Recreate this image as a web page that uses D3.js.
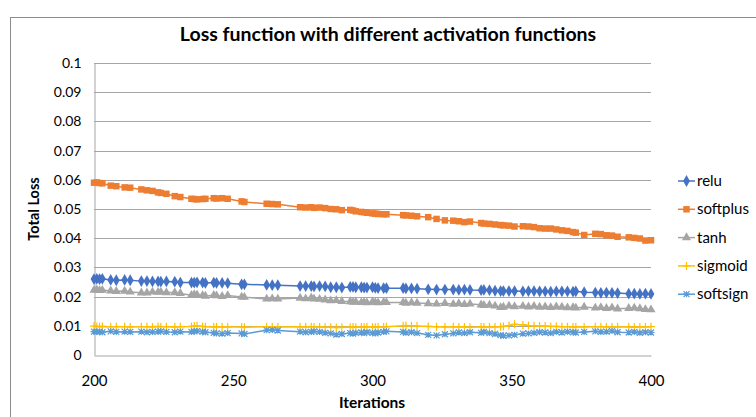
<!DOCTYPE html>
<html>
<head>
<meta charset="utf-8">
<script src="https://cdn.jsdelivr.net/npm/d3@7"></script>
<style>
  body { margin: 0; background: #fff; }
  svg { display: block; font-family: Lato, "Open Sans", sans-serif; }
</style>
</head>
<body>
<script>
// iterations (x), shared by all series
const iterations = [200,201,202,203,206,208,211,213,217,219,221,223,224,226,229,231,235,236,237,239,240,243,244,246,248,253,254,262,264,266,274,276,278,279,281,283,285,287,289,292,293,294,296,297,298,300,301,302,304,305,311,312,314,316,320,323,326,329,331,333,335,339,340,342,344,346,347,349,351,354,356,358,360,362,364,366,368,370,372,373,376,380,382,384,386,388,392,394,396,398,400];

const relu = [.0260,.0261,.0260,.0261,.0257,.0256,.0257,.0256,.0253,.0253,.0252,.0252,.0251,.0252,.0251,.0248,.0248,.0248,.0249,.0248,.0247,.0248,.0247,.0247,.0246,.0242,.0242,.0240,.0239,.0239,.0236,.0236,.0236,.0235,.0236,.0235,.0232,.0232,.0231,.0233,.0233,.0232,.0232,.0231,.0231,.0232,.0230,.0229,.0229,.0229,.0229,.0228,.0228,.0227,.0225,.0224,.0224,.0224,.0223,.0224,.0223,.0222,.0223,.0222,.0220,.0219,.0219,.0219,.0219,.0218,.0219,.0219,.0218,.0218,.0217,.0218,.0218,.0218,.0217,.0218,.0215,.0214,.0213,.0214,.0213,.0212,.0210,.0210,.0209,.0210,.0209];

const softplus = [.0590,.0591,.0589,.0588,.0580,.0578,.0574,.0573,.0567,.0564,.0562,.0557,.0555,.0552,.0544,.0541,.0535,.0534,.0533,.0534,.0535,.0537,.0536,.0537,.0535,.0526,.0524,.0518,.0517,.0516,.0506,.0505,.0506,.0504,.0505,.0503,.0500,.0499,.0496,.0497,.0495,.0492,.0490,.0489,.0487,.0485,.0484,.0483,.0482,.0482,.0479,.0478,.0477,.0475,.0472,.0466,.0461,.0460,.0458,.0455,.0457,.0452,.0450,.0449,.0447,.0445,.0444,.0443,.0440,.0441,.0440,.0438,.0434,.0433,.0433,.0430,.0427,.0425,.0421,.0419,.0411,.0415,.0414,.0410,.0409,.0405,.0403,.0401,.0399,.0392,.0393];

const tanh = [.0222,.0223,.0221,.0222,.0220,.0218,.0219,.0216,.0213,.0213,.0216,.0215,.0216,.0214,.0214,.0211,.0205,.0207,.0206,.0204,.0202,.0205,.0203,.0201,.0204,.0199,.0198,.0192,.0193,.0192,.0195,.0193,.0196,.0192,.0191,.0189,.0186,.0187,.0184,.0183,.0181,.0182,.0180,.0181,.0179,.0182,.0180,.0179,.0181,.0180,.0180,.0178,.0179,.0178,.0176,.0175,.0177,.0174,.0176,.0173,.0175,.0172,.0170,.0171,.0168,.0163,.0164,.0168,.0166,.0167,.0165,.0167,.0164,.0165,.0163,.0165,.0164,.0162,.0163,.0161,.0164,.0161,.0163,.0160,.0162,.0158,.0160,.0161,.0159,.0156,.0155];

const sigmoid = [.0099,.0098,.0097,.0098,.0097,.0097,.0097,.0096,.0097,.0097,.0096,.0098,.0097,.0097,.0096,.0097,.0098,.0099,.0100,.0098,.0097,.0096,.0097,.0096,.0096,.0096,.0095,.0097,.0097,.0096,.0097,.0096,.0097,.0096,.0096,.0095,.0095,.0094,.0095,.0095,.0096,.0095,.0096,.0095,.0096,.0096,.0095,.0096,.0096,.0097,.0100,.0101,.0100,.0099,.0098,.0097,.0096,.0097,.0096,.0096,.0095,.0096,.0096,.0096,.0096,.0097,.0098,.0101,.0105,.0103,.0101,.0100,.0099,.0099,.0098,.0098,.0097,.0097,.0096,.0096,.0096,.0097,.0097,.0096,.0096,.0096,.0096,.0095,.0096,.0096,.0097];

const softsign = [.0080,.0079,.0080,.0078,.0081,.0079,.0080,.0079,.0080,.0078,.0079,.0080,.0081,.0079,.0078,.0080,.0079,.0081,.0082,.0080,.0078,.0076,.0074,.0073,.0075,.0074,.0072,.0085,.0086,.0084,.0080,.0078,.0079,.0081,.0079,.0076,.0074,.0070,.0072,.0075,.0073,.0076,.0077,.0075,.0078,.0076,.0074,.0077,.0079,.0081,.0079,.0076,.0078,.0075,.0069,.0067,.0071,.0074,.0077,.0075,.0078,.0076,.0079,.0075,.0072,.0068,.0066,.0067,.0069,.0073,.0074,.0076,.0078,.0077,.0075,.0079,.0077,.0080,.0078,.0077,.0079,.0081,.0079,.0080,.0082,.0078,.0077,.0079,.0076,.0078,.0077];

const seriesNames = ["relu", "softplus", "tanh", "sigmoid", "softsign"];
const seriesValues = [relu, softplus, tanh, sigmoid, softsign];
const colors = ["#4472C4", "#ED7D31", "#A5A5A5", "#FFC000", "#5B9BD5"];
const yTicks = [0, 0.01, 0.02, 0.03, 0.04, 0.05, 0.06, 0.07, 0.08, 0.09, 0.1];
const xTicks = [200, 250, 300, 350, 400];

const W = 756, H = 417;
const plot = { left: 94, right: 651, top: 63, bottom: 355 };

const svg = d3.select("body").append("svg")
  .attr("width", W).attr("height", H);

// chart frame (runs off the picture on right/bottom)
svg.append("rect")
  .attr("x", 10.5).attr("y", 17.5)
  .attr("width", 800).attr("height", 500)
  .attr("fill", "none").attr("stroke", "#8c8c8c");

const x = d3.scaleLinear().domain([200, 400]).range([plot.left, plot.right]);
const y = d3.scaleLinear().domain([0, 0.1]).range([plot.bottom, plot.top]);

// gridlines
svg.append("g").selectAll("line")
  .data(yTicks.slice(1))
  .join("line")
  .attr("x1", plot.left).attr("x2", plot.right)
  .attr("y1", d => Math.round(y(d)) + 0.5).attr("y2", d => Math.round(y(d)) + 0.5)
  .attr("stroke", "#a6a6a6").attr("stroke-width", 1);

// y axis
const yAxis = svg.append("g")
  .attr("transform", `translate(${plot.left + 0.5},0)`)
  .call(d3.axisLeft(y).tickValues(yTicks).tickSize(0).tickPadding(13)
    .tickFormat(d => d === 0 ? "0" : d3.format("~g")(d)));
yAxis.select(".domain").attr("stroke", "#a6a6a6");
yAxis.selectAll("text").attr("font-size", 14).attr("fill", "#000")
  .attr("font-family", "Lato, sans-serif");

// x axis
const xAxis = svg.append("g")
  .attr("transform", `translate(0,${Math.round(y(0)) + 0.5})`)
  .call(d3.axisBottom(x).tickValues(xTicks).tickSize(0).tickPadding(20));
xAxis.select(".domain").attr("stroke", "#a6a6a6");
xAxis.selectAll("text").attr("font-size", 15).attr("fill", "#000")
  .attr("font-family", "Lato, sans-serif");

// markers
const symbols = [d3.symbolDiamond, d3.symbolSquare, d3.symbolTriangle, d3.symbolCross, d3.symbolAsterisk];

function drawMarker(g, i, cx, cy) {
  const c = colors[i];
  if (i === 3) {
    // plus sign
    g.append("path")
      .attr("d", `M${cx - 4},${cy}H${cx + 4}M${cx},${cy - 4}V${cy + 4}`)
      .attr("stroke", c).attr("stroke-width", 1.2).attr("fill", "none");
  } else if (i === 4) {
    g.append("path")
      .attr("d", `M${cx - 3.5},${cy}H${cx + 3.5}M${cx - 3},${cy - 3}L${cx + 3},${cy + 3}M${cx - 3},${cy + 3}L${cx + 3},${cy - 3}M${cx},${cy - 3}V${cy + 3}`)
      .attr("stroke", c).attr("stroke-width", 1.2).attr("fill", "none");
  } else {
    const size = i === 0 ? 40 : i === 1 ? 42 : 36;
    g.append("path")
      .attr("d", d3.symbol().type(symbols[i]).size(size)())
      .attr("transform", `translate(${cx},${cy})`)
      .attr("fill", c);
  }
}

const line = d3.line().x(d => x(d[0])).y(d => y(d[1]));

seriesValues.forEach((vals, i) => {
  const pts = iterations.map((it, k) => [it, vals[k]]);
  const g = svg.append("g");
  g.append("path")
    .attr("d", line(pts))
    .attr("fill", "none")
    .attr("stroke", colors[i])
    .attr("stroke-width", 1.5);
  pts.forEach(p => drawMarker(g, i, x(p[0]), y(p[1])));
});

// title
svg.append("text")
  .attr("x", 388).attr("y", 41)
  .attr("text-anchor", "middle")
  .attr("font-size", 19.5).attr("font-weight", "bold")
  .text("Loss function with different activation functions");

// axis titles
svg.append("text")
  .attr("transform", "translate(39,209) rotate(-90)")
  .attr("text-anchor", "middle")
  .attr("font-size", 14.5).attr("font-weight", "bold")
  .text("Total Loss");

svg.append("text")
  .attr("x", 372).attr("y", 408)
  .attr("text-anchor", "middle")
  .attr("font-size", 15.5).attr("font-weight", "bold")
  .text("Iterations");

// legend
const legend = svg.append("g");
seriesNames.forEach((name, i) => {
  const ly = 181 + i * 28.3;
  legend.append("line")
    .attr("x1", 678).attr("x2", 695)
    .attr("y1", ly).attr("y2", ly)
    .attr("stroke", colors[i]).attr("stroke-width", 1.5);
  drawMarker(legend, i, 686.5, ly);
  legend.append("text")
    .attr("x", 697).attr("y", ly + 5)
    .attr("font-size", 15)
    .text(name);
});
</script>
</body>
</html>
